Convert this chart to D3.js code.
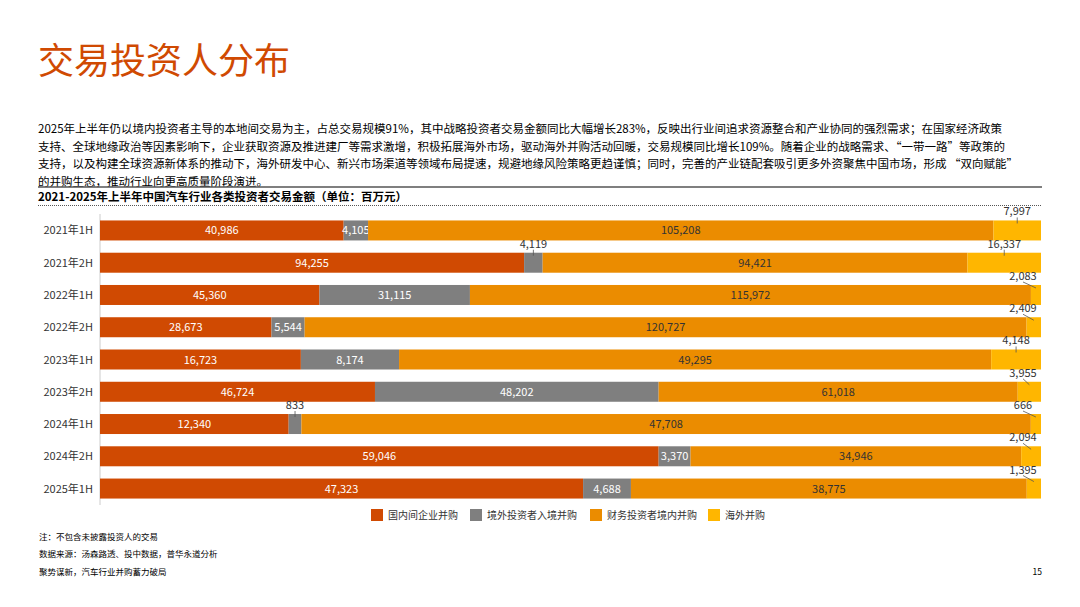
<!DOCTYPE html>
<html><head><meta charset="utf-8">
<script src="https://cdn.jsdelivr.net/npm/d3@7"></script>
<style>body{margin:0;background:#fff;font-family:"Noto Sans CJK SC","Noto Sans",sans-serif}</style>
</head><body><svg id="c" width="1080" height="607"></svg>
<script>
const categories=["2021年1H","2021年2H","2022年1H","2022年2H","2023年1H","2023年2H","2024年1H","2024年2H","2025年1H"];
const seriesNames=["国内间企业并购","境外投资者入境并购","财务投资者境内并购","海外并购"];
const domestic=[40986,94255,45360,28673,16723,46724,12340,59046,47323];
const inbound=[4105,4119,31115,5544,8174,48202,833,3370,4688];
const financial=[105208,94421,115972,120727,49295,61018,47708,34946,38775];
const overseas=[7997,16337,2083,2409,4148,3955,666,2094,1395];
const colors=["#D04A02","#7F7F7F","#EB8C00","#FFB600"];
const para=["2025年上半年仍以境内投资者主导的本地间交易为主，占总交易规模91%，其中战略投资者交易金额同比大幅增长283%，反映出行业间追求资源整合和产业协同的强烈需求；在国家经济政策",
"支持、全球地缘政治等因素影响下，企业获取资源及推进建厂等需求激增，积极拓展海外市场，驱动海外并购活动回暖，交易规模同比增长109%。随着企业的战略需求、“一带一路”等政策的",
"支持，以及构建全球资源新体系的推动下，海外研发中心、新兴市场渠道等领域布局提速，规避地缘风险策略更趋谨慎；同时，完善的产业链配套吸引更多外资聚焦中国市场，形成 “双向赋能”",
"的并购生态，推动行业向更高质量阶段演进。"];
const svg=d3.select("#c");
svg.append("text").attr("x",38).attr("y",74).attr("font-size",36).attr("fill","#D04A02").text("交易投资人分布");
para.forEach((t,i)=>svg.append("text").attr("x",38).attr("y",133+i*17.5).attr("font-size",11.5).attr("fill","#000").text(t));
svg.append("line").attr("x1",38).attr("x2",1042).attr("y1",187).attr("y2",187).attr("stroke","#555").attr("stroke-width",1.5);
svg.append("text").attr("x",38).attr("y",201).attr("font-size",11.5).attr("font-weight","bold").text("2021-2025年上半年中国汽车行业各类投资者交易金额（单位：百万元）");
svg.append("line").attr("x1",38).attr("x2",1042).attr("y1",205.5).attr("y2",205.5).attr("stroke","#555").attr("stroke-dasharray","1,1");
const rows=categories.map((c,i)=>{const v=[domestic[i],inbound[i],financial[i],overseas[i]];const tot=d3.sum(v);let acc=0;return {c,segs:v.map((x,k)=>{const s={k,v:x,x0:acc/tot,x1:(acc+x)/tot};acc+=x;return s;})};});
const x=d3.scaleLinear().domain([0,1]).range([100,1041]);
const y=d3.scaleBand().domain(categories).range([214,505]).paddingInner(0.38).paddingOuter(0.2);
svg.append("line").attr("x1",100).attr("x2",100).attr("y1",214).attr("y2",505).attr("stroke","#ccc");
const fmt=d3.format(",");
rows.forEach(r=>{
  const yy=y(r.c),h=y.bandwidth();
  svg.append("text").attr("x",93).attr("y",yy+h/2+4).attr("text-anchor","end").attr("font-size",11).attr("fill","#333").text(r.c);
  r.segs.forEach(s=>{
    svg.append("rect").attr("x",x(s.x0)).attr("y",yy).attr("width",x(s.x1)-x(s.x0)).attr("height",h).attr("fill",colors[s.k]);
    const cx=(x(s.x0)+x(s.x1))/2;
    if(s.k===3||(x(s.x1)-x(s.x0))<20){
      const lx=Math.min(cx,1023);
      svg.append("text").attr("x",lx).attr("y",yy-5).attr("text-anchor","middle").attr("font-size",11).attr("fill","#333").text(fmt(s.v));
      svg.append("line").attr("x1",lx).attr("y1",yy-3).attr("x2",cx).attr("y2",yy+3).attr("stroke","#555").attr("stroke-width",0.8);
    } else {
      svg.append("text").attr("x",cx).attr("y",yy+h/2+4).attr("text-anchor","middle").attr("font-size",11)
        .attr("fill",s.k===2?"#333":"#fff").text(fmt(s.v));
    }
  });
});
const lg=[[371,"国内间企业并购"],[470,"境外投资者入境并购"],[590,"财务投资者境内并购"],[708,"海外并购"]];
lg.forEach((d,i)=>{svg.append("rect").attr("x",d[0]).attr("y",509).attr("width",12).attr("height",12).attr("fill",colors[i]);
  svg.append("text").attr("x",d[0]+17).attr("y",519).attr("font-size",10).attr("fill","#333").text(seriesNames[i]);});
[["注：不包含未披露投资人的交易",540],["数据来源：汤森路透、投中数据，普华永道分析",557],["聚势谋新，汽车行业并购蓄力破局",575]].forEach(d=>
  svg.append("text").attr("x",39).attr("y",d[1]).attr("font-size",8.5).attr("fill","#000").text(d[0]));
svg.append("text").attr("x",1042).attr("y",575).attr("text-anchor","end").attr("font-size",8.5).text("15");
</script></body></html>
